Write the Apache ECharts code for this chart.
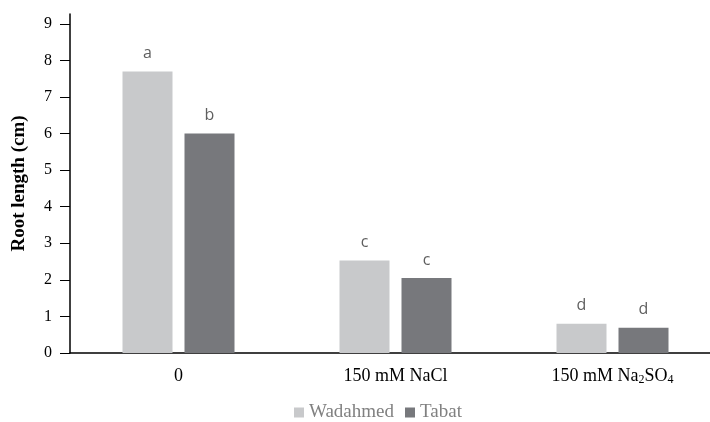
<!DOCTYPE html>
<html>
<head>
<meta charset="utf-8">
<script src="https://cdn.jsdelivr.net/npm/echarts@6/dist/echarts.min.js"></script>
<style>html,body{margin:0;padding:0;background:#fff}#c{width:710px;height:422px}</style>
</head>
<body>
<div id="c"></div>
<script>
const categories = ['0', '150 mM NaCl', '150 mM Na{sub|2}SO{sub|4}'];
const seriesNames = ['Wadahmed', 'Tabat'];
const wadahmed = [7.7, 2.53, 0.8];
const tabat = [6.0, 2.05, 0.69];
const wadLetters = ['a', 'c', 'd'];
const tabLetters = ['b', 'c', 'd'];
const yTicks = [0, 1, 2, 3, 4, 5, 6, 7, 8, 9];

const serif = '"Liberation Serif", "Times New Roman", serif';
const sans = '"Open Sans", "Noto Sans", sans-serif';

function mkLabel(letters) {
  return {
    show: true, position: 'top', distance: 10,
    formatter: p => letters[p.dataIndex],
    fontFamily: sans, fontSize: 16, color: '#5f5f5f'
  };
}

const chart = echarts.init(document.getElementById('c'));
chart.setOption({
  animation: false,
  grid: { left: 70, width: 651, top: 14, bottom: 69, containLabel: false, outerBoundsMode: 'none' },
  legend: {
    bottom: -5, left: 289,
    itemWidth: 10, itemHeight: 10, itemGap: 11,
    icon: 'rect',
    textStyle: { fontFamily: serif, fontSize: 19, color: '#808080' },
    data: seriesNames
  },
  xAxis: {
    type: 'category', data: categories,
    axisLine: { lineStyle: { color: '#000', width: 1.5 } },
    axisTick: { show: false },
    axisLabel: {
      interval: 0, margin: 14, color: '#000', fontFamily: serif, fontSize: 18,
      rich: { sub: { fontFamily: serif, fontSize: 12, color: '#000', verticalAlign: 'bottom', padding: [7, 0, 0, 0] } }
    }
  },
  yAxis: {
    type: 'value', min: 0, max: 9.27,
    name: 'Root length (cm)', nameLocation: 'middle', nameGap: 41,
    nameTextStyle: { fontFamily: serif, fontSize: 19, fontWeight: 'bold', color: '#000' },
    axisLine: { show: true, lineStyle: { color: '#000', width: 1.5 } },
    axisTick: { show: true, inside: false, length: 10, customValues: yTicks, lineStyle: { color: '#000' } },
    axisLabel: { customValues: yTicks, margin: 18, color: '#000', fontFamily: serif, fontSize: 16 },
    splitLine: { show: false }
  },
  series: [
    { name: seriesNames[0], type: 'bar', data: wadahmed, barWidth: 50, barGap: '24%',
      itemStyle: { color: '#c8c9cb' }, label: mkLabel(wadLetters) },
    { name: seriesNames[1], type: 'bar', data: tabat, barWidth: 50, barGap: '24%',
      itemStyle: { color: '#77787c' }, label: mkLabel(tabLetters) }
  ]
});
</script>
</body>
</html>
